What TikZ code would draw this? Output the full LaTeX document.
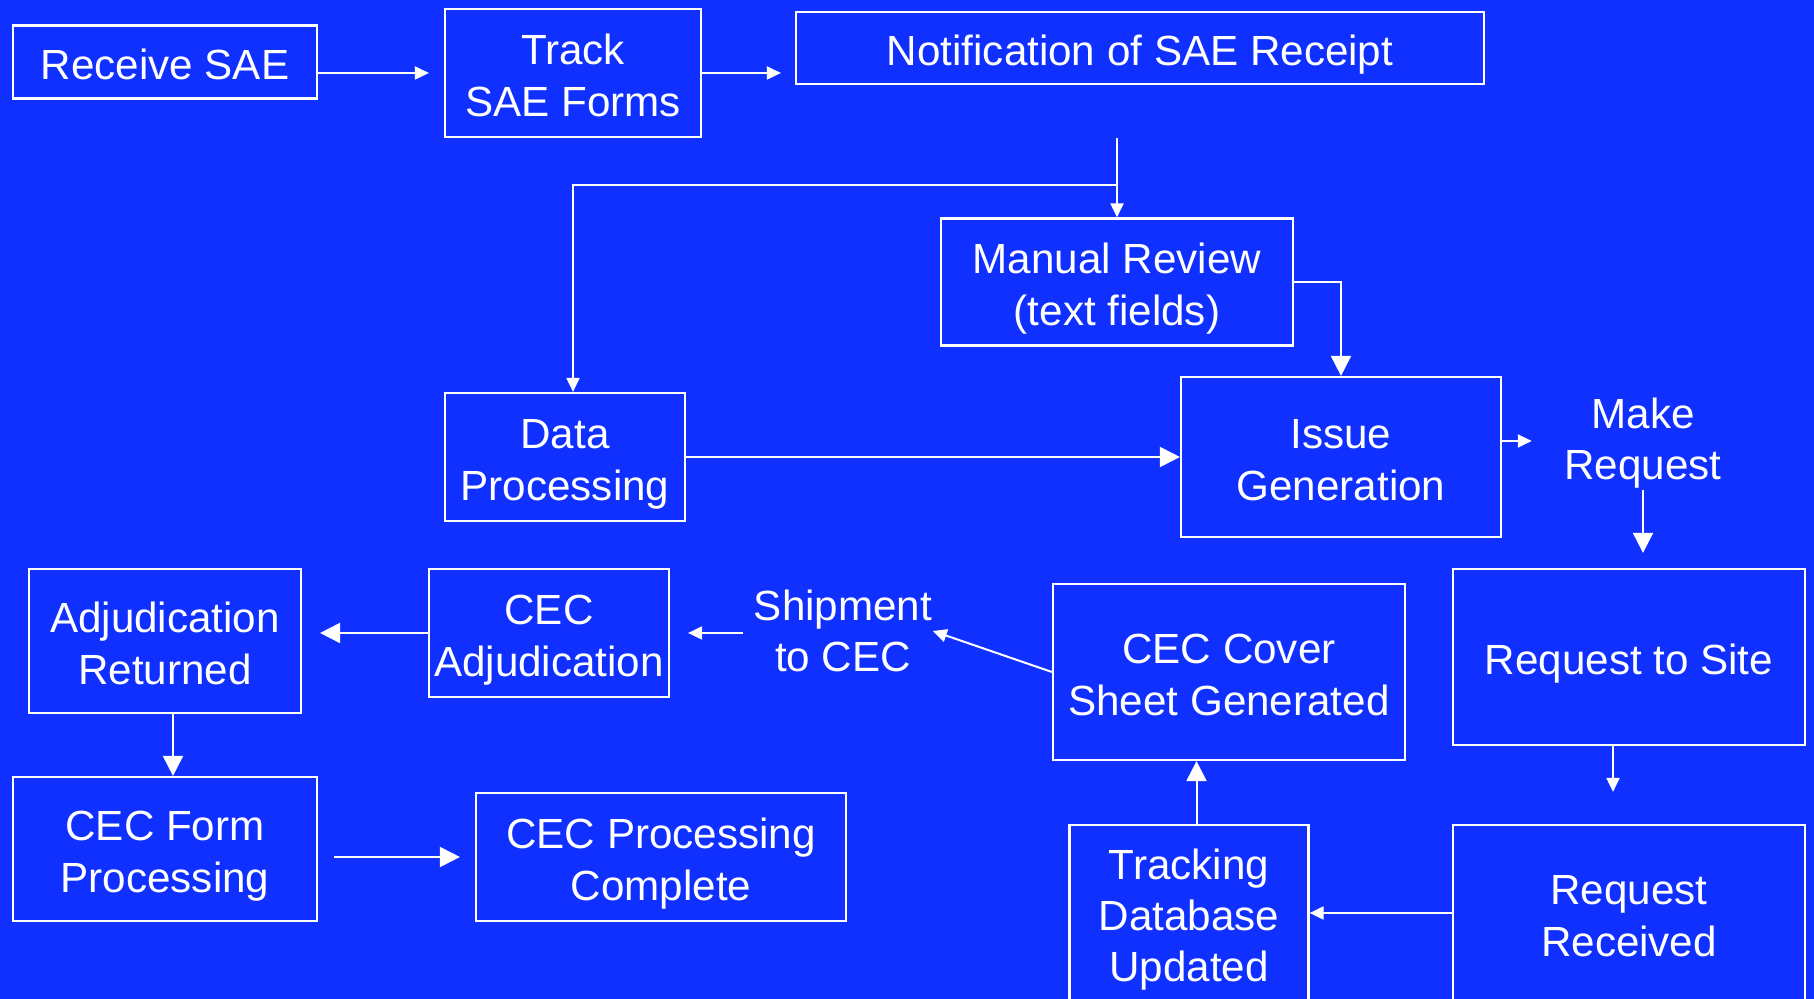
\documentclass[tikz,border=0pt]{standalone}
\usepackage{fontspec}
\setmainfont{Liberation Sans}
\usepackage{tikz}
\usetikzlibrary{calc}
\usetikzlibrary{arrows.meta}
\usetikzlibrary{positioning}
\definecolor{slideblue}{RGB}{16,48,255}
\tikzset{box/.style={shape=rectangle, draw=white, line width=0.22mm, inner sep=0pt, align=center, text=white, text height=12.6pt, text depth=2.7pt}}
\tikzset{twolines/.style={text height=27.2pt}}
\tikzset{threelines/.style={text height=41.8pt}}
\tikzset{plaintext/.style={inner sep=0pt, align=center, text=white}}
\tikzset{smallarr/.style={draw=white, line width=0.2mm, -{Triangle[length=1.4mm,width=1.3mm]}}}
\tikzset{bigarr/.style={draw=white, line width=0.2mm, -{Triangle[length=2mm,width=2mm]}}}

\begin{document}
\begin{tikzpicture}[x=0.1mm, y=-0.1mm, font=\fontsize{12}{14.6}\selectfont]
		\clip (0,0) rectangle (1814,999);
		\fill[slideblue] (0,0) rectangle (1814,999);
		\node[box, minimum width=30.4mm, minimum height=7.3mm] (recv) at (165,62) {Receive SAE};
		\node[box, twolines, minimum width=25.6mm, minimum height=12.8mm] (track) at (573,73) {Track\\SAE Forms};
		\node[box, minimum width=68.8mm, minimum height=7.2mm] (notif) at (1140,48) {Notification of SAE Receipt};
		\node[box, twolines, minimum width=35.2mm, minimum height=12.7mm] (manual) at (1117,282) {Manual Review\\(text fields)};
		\node[box, twolines, minimum width=24mm, minimum height=12.8mm] (data) at (565,457) {Data\\Processing};
		\node[box, twolines, minimum width=32mm, minimum height=16mm] (issue) at (1341,457) {Issue\\Generation};
		\node[plaintext] (makereq) at (1643,443) {Make\\Request};
		\node[box, minimum width=35.2mm, minimum height=17.6mm] (reqsite) at (1629,657) {Request to Site};
		\node[box, twolines, minimum width=35.2mm, minimum height=17.6mm] (reqrecv) at (1629,913) {Request\\Received};
		\node[box, threelines, minimum width=23.9mm, minimum height=17.6mm] (trackdb) at (1189,913) {Tracking\\Database\\Updated};
		\node[box, twolines, minimum width=35.2mm, minimum height=17.6mm] (cover) at (1229,672) {CEC Cover\\Sheet Generated};
		\node[plaintext] (ship) at (843,631) {Shipment\\to CEC};
		\node[box, twolines, minimum width=24mm, minimum height=12.8mm] (cecadj) at (549,633) {CEC\\Adjudication};
		\node[box, twolines, minimum width=27.2mm, minimum height=14.4mm] (adjret) at (165,641) {Adjudication\\Returned};
		\node[box, twolines, minimum width=30.4mm, minimum height=14.4mm] (cecform) at (165,849) {CEC Form\\Processing};
		\node[box, twolines, minimum width=37mm, minimum height=12.8mm] (cecdone) at (661,857) {CEC Processing\\Complete};
		\coordinate (split) at (1117,185);
		\draw[smallarr, shorten >=1.5mm] (recv.east |- track) -- (track.west);
		\draw[smallarr, shorten >=1.4mm] (track.east) -- (track.east -| notif.west);
		\draw[smallarr, shorten <=5.3mm] (notif.south -| manual) -- (manual.north);
		\draw[smallarr] (split) -| ([xshift=0.8mm]data.north);
		\draw[bigarr] (manual.east) -| (issue.north);
		\draw[bigarr] (data.east) -- (issue.west);
		\draw[smallarr, shorten >=3.2mm] ([yshift=1.6mm]issue.east) -- ([yshift=1.6mm]issue.east -| makereq.west);
		\draw[bigarr, shorten <=0.1mm, shorten >=1.5mm] (makereq.south) -- (makereq.south |- reqsite.north);
		\draw[smallarr, shorten >=3.2mm] ([xshift=-1.6mm]reqsite.south) -- ([xshift=-1.6mm]reqsite.south |- reqrecv.north);
		\draw[smallarr] (reqrecv.west) -- (trackdb.east);
		\draw[bigarr] ([xshift=0.75mm]trackdb.north) -- ([xshift=0.75mm]trackdb.north |- cover.south);
		\draw[smallarr] (cover.west) -- (ship.east);
		\draw[smallarr, shorten <=1mm, shorten >=1.8mm] (ship.west |- cecadj) -- (cecadj.east);
		\draw[bigarr, shorten >=1.8mm] (cecadj.west) -- (adjret.east |- cecadj);
		\draw[bigarr] ([xshift=0.8mm]adjret.south) -- ([xshift=0.8mm]adjret.south |- cecform.north);
		\draw[bigarr, shorten <=1.6mm, shorten >=1.5mm] (cecform.east |- cecdone) -- (cecdone.west);
	\end{tikzpicture}
\end{document}
